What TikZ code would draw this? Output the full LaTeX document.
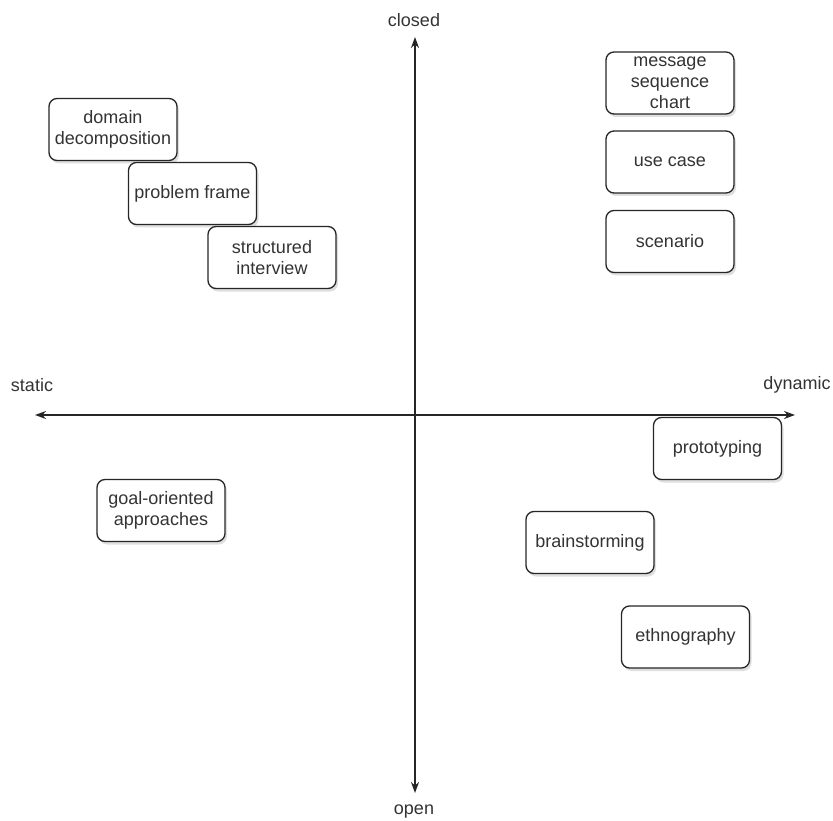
\documentclass[tikz,border=0pt]{standalone}
\usepackage{fontspec}
\setmainfont{Liberation Sans}
\usetikzlibrary{arrows.meta,shadows}
\definecolor{labelgray}{HTML}{333333}

\begin{document}
\begin{tikzpicture}[x=1pt, y=-1pt, >={Stealth[length=11pt, width=8pt]},
    axis/.style={line width=1.4pt, black!85},
    method/.style={draw, line width=1.3pt, black!85, fill=white, rounded corners=8pt,
      minimum width=128pt, minimum height=62pt, inner sep=1pt, align=center,
      text=labelgray, font=\fontsize{18}{21}\selectfont,
      drop shadow={opacity=0.25, shadow xshift=2pt, shadow yshift=-3pt}},
    pole/.style={text=labelgray, inner sep=0pt, font=\fontsize{18}{21}\selectfont}]
  \useasboundingbox (0,0) rectangle (833,821);
  % axes
  \coordinate (W) at (35,415);
  \coordinate (E) at (795,415);
  \coordinate (N) at (415,37);
  \coordinate (S) at (415,793);
  \draw[axis, <->] (W) -- (E);
  \draw[axis, <->] (S) -- (N);
  % poles
  \node[pole] (static) at (32,385) {static};
  \node[pole] (dynamic) at (797,385) {dynamic};
  \node[pole] (closed) at (414,20) {closed};
  \node[pole] (open) at (414,812) {open};
  % methods
  \foreach \n/\p/\t in {dd/{113,129.5}/{domain\\decomposition},
                        pf/{192.5,193.5}/{problem frame},
                        si/{272,257.5}/{structured\\interview},
                        msc/{670,83}/{message\\sequence\\chart},
                        uc/{670,162}/{use case},
                        sc/{670,241.5}/{scenario},
                        proto/{717.5,448.5}/{prototyping},
                        goal/{161,510.5}/{goal-oriented\\approaches},
                        brain/{590,542.5}/{brainstorming},
                        eth/{685.5,637}/{ethnography}}
    \node[method] (\n) at (\p) {\t};
\end{tikzpicture}
\end{document}
